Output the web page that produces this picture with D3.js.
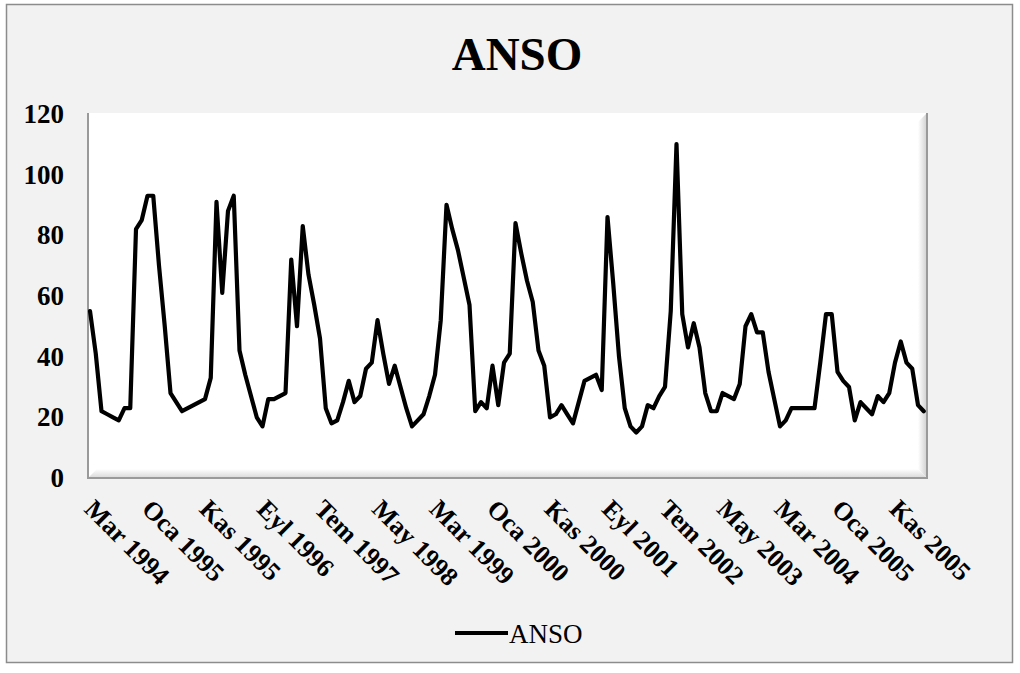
<!DOCTYPE html>
<html>
<head>
<meta charset="utf-8">
<script src="https://cdn.jsdelivr.net/npm/d3@7"></script>
<style>
  html, body { margin: 0; padding: 0; background: #ffffff; }
  svg { display: block; font-family: "Liberation Serif", "Times New Roman", serif; }
</style>
</head>
<body>
<svg id="chart"></svg>
<script>
// Turkish month abbreviations, series runs monthly from Mar 1994
const monthNames = ["Oca", "Şub", "Mar", "Nis", "May", "Haz", "Tem", "Ağu", "Eyl", "Eki", "Kas", "Ara"];
const startYear = 1994;
const startMonth = 2;   // Mar
const labelStep = 10;   // every 10th category gets a label

const ansoValues = [
    55, 41, 22, 21, 20, 19, 23, 23, 82, 85,
    93, 93, 70, 50, 28, 25, 22, 23, 24, 25,
    26, 33, 91, 61, 88, 93, 42, 34, 27, 20,
    17, 26, 26, 27, 28, 72, 50, 83, 67, 57,
    46, 23, 18, 19, 25, 32, 25, 27, 36, 38,
    52, 41, 31, 37, 30, 23, 17, 19, 21, 27,
    34, 52, 90, 82, 75, 66, 57, 22, 25, 23,
    37, 24, 38, 41, 84, 74, 65, 58, 42, 37,
    20, 21, 24, 21, 18, 25, 32, 33, 34, 29,
    86, 64, 40, 23, 17, 15, 17, 24, 23, 27,
    30, 55, 110, 54, 43, 51, 43, 28, 22, 22,
    28, 27, 26, 31, 50, 54, 48, 48, 35, 26,
    17, 19, 23, 23, 23, 23, 23, 38, 54, 54,
    35, 32, 30, 19, 25, 23, 21, 27, 25, 28,
    38, 45, 38, 36, 24, 22
];

const yTicks = [0, 20, 40, 60, 80, 100, 120];

const categories = ansoValues.map((v, i) => {
    const m = startMonth + i;
    return monthNames[m % 12] + " " + (startYear + Math.floor(m / 12));
});
const data = ansoValues.map((v, i) => ({ cat: categories[i], value: v }));

const width = 1020, height = 673;
const plot = { left: 88, right: 927, top: 113, bottom: 478 };

const svg = d3.select("#chart").attr("width", width).attr("height", height);

const defs = svg.append("defs");
const gRight = defs.append("linearGradient").attr("id", "shadeRight")
    .attr("x1", "0").attr("x2", "1").attr("y1", "0").attr("y2", "0");
gRight.append("stop").attr("offset", "0").attr("stop-color", "#ffffff");
gRight.append("stop").attr("offset", "1").attr("stop-color", "#d0d0d0");
const gBottom = defs.append("linearGradient").attr("id", "shadeBottom")
    .attr("x1", "0").attr("x2", "0").attr("y1", "0").attr("y2", "1");
gBottom.append("stop").attr("offset", "0").attr("stop-color", "#ffffff");
gBottom.append("stop").attr("offset", "1").attr("stop-color", "#d8d8d8");

// chart area
svg.append("rect")
    .attr("x", 6.5).attr("y", 4.5)
    .attr("width", 1006).attr("height", 658)
    .attr("fill", "#f2f2f2")
    .attr("stroke", "#8c8c8c")
    .attr("stroke-width", 1.5);

// plot area with soft bevel
svg.append("rect")
    .attr("x", plot.left).attr("y", plot.top)
    .attr("width", plot.right - plot.left).attr("height", plot.bottom - plot.top)
    .attr("fill", "#ffffff");
svg.append("polygon")
    .attr("points", `${plot.right - 9},${plot.top + 9} ${plot.right},${plot.top} ${plot.right},${plot.bottom} ${plot.right - 9},${plot.bottom - 9}`)
    .attr("fill", "url(#shadeRight)");
svg.append("polygon")
    .attr("points", `${plot.left},${plot.bottom} ${plot.left + 9},${plot.bottom - 9} ${plot.right - 9},${plot.bottom - 9} ${plot.right},${plot.bottom}`)
    .attr("fill", "url(#shadeBottom)");
svg.append("path")
    .attr("d", `M${plot.left},${plot.top}V${plot.bottom}H${plot.right}V${plot.top}`)
    .attr("fill", "none")
    .attr("stroke", "#9a9a9a")
    .attr("stroke-width", 2);

// scales
const x = d3.scalePoint().domain(categories).range([90, 923.75]);
const y = d3.scaleLinear().domain([0, 120]).range([478, 113.8]);

// y axis
const yAxis = svg.append("g")
    .attr("transform", `translate(64,0)`)
    .call(d3.axisLeft(y).tickValues(yTicks).tickSize(0).tickPadding(0));
yAxis.select(".domain").remove();
yAxis.attr("font-family", "Liberation Serif, serif").attr("font-size", 27);
yAxis.selectAll("text")
    .attr("font-weight", "bold")
    .attr("fill", "#000");

// x axis labels, every 10th month, rotated
const xAxis = svg.append("g")
    .attr("transform", `translate(0,${plot.bottom})`)
    .call(d3.axisBottom(x)
        .tickValues(categories.filter((c, i) => i % labelStep === 0))
        .tickSize(0));
xAxis.select(".domain").remove();
xAxis.attr("font-family", "Liberation Serif, serif").attr("font-size", 26);
xAxis.selectAll("text")
    .attr("font-weight", "bold")
    .attr("fill", "#000")
    .attr("text-anchor", "start")
    .attr("y", 0)
    .attr("dy", "0.35em")
    .attr("transform", "translate(-1,26) rotate(45)");

// series line
const line = d3.line().x(d => x(d.cat)).y(d => y(d.value));
svg.append("path")
    .datum(data)
    .attr("d", line)
    .attr("fill", "none")
    .attr("stroke", "#000")
    .attr("stroke-width", 4.2)
    .attr("stroke-linejoin", "round")
    .attr("stroke-linecap", "round");

// title
svg.append("text")
    .attr("x", 517).attr("y", 70)
    .attr("text-anchor", "middle")
    .attr("font-size", 47)
    .attr("font-weight", "bold")
    .text("ANSO");

// legend
svg.append("line")
    .attr("x1", 455).attr("x2", 508)
    .attr("y1", 633).attr("y2", 633)
    .attr("stroke", "#000")
    .attr("stroke-width", 4.2);
svg.append("text")
    .attr("x", 509).attr("y", 643)
    .attr("font-size", 27)
    .text("ANSO");
</script>
</body>
</html>
